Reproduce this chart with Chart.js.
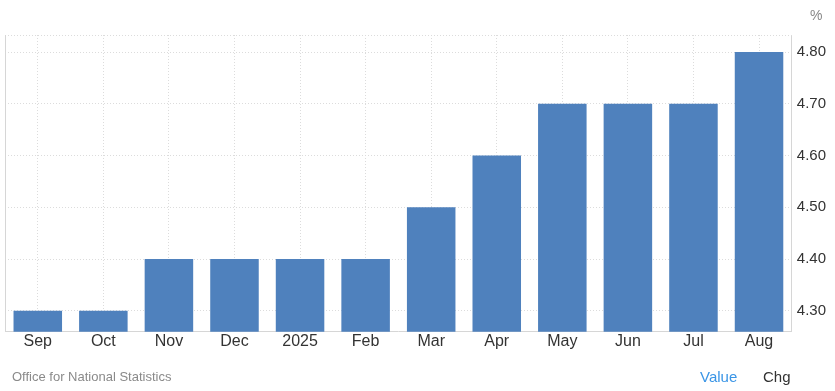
<!DOCTYPE html>
<html>
<head>
<meta charset="utf-8">
<script src="https://cdn.jsdelivr.net/npm/chart.js@4/dist/chart.umd.min.js"></script>
<style>
  html, body { margin: 0; padding: 0; background: #fff; }
  #wrap { position: relative; width: 835px; height: 391px; font-family: "Liberation Sans", Arial, sans-serif; }
  #c { position: absolute; left: 0; top: 0; }
  .txt { position: absolute; white-space: nowrap; }
</style>
</head>
<body>
<div id="wrap">
  <canvas id="c" width="835" height="391"></canvas>
  <div class="txt" style="left:810px; top:7px; font-size:14px; color:#888;">%</div>
  <div class="txt" style="left:12px; top:369px; font-size:13px; color:#8a8a8a;">Office for National Statistics</div>
  <div class="txt" style="left:700px; top:368px; font-size:15px; color:#3a95e6;">Value</div>
  <div class="txt" style="left:763px; top:368px; font-size:15px; color:#333;">Chg</div>
</div>
<script>
const categories = ["Sep", "Oct", "Nov", "Dec", "2025", "Feb", "Mar", "Apr", "May", "Jun", "Jul", "Aug"];
const values = [4.3, 4.3, 4.4, 4.4, 4.4, 4.4, 4.5, 4.6, 4.7, 4.7, 4.7, 4.8];
const yTicks = [4.3, 4.4, 4.5, 4.6, 4.7, 4.8];

const frame = {
  id: 'frame',
  beforeDatasetsDraw(chart) {
    const { ctx, chartArea: a } = chart;
    ctx.save();
    ctx.strokeStyle = '#dcdcdc';
    ctx.lineWidth = 1;
    ctx.setLineDash([1, 2]);
    ctx.beginPath();
    ctx.moveTo(a.left, a.top + 0.5);
    ctx.lineTo(a.right, a.top + 0.5);
    ctx.stroke();
    ctx.setLineDash([]);
    ctx.strokeStyle = '#d6d6d6';
    ctx.beginPath();
    ctx.moveTo(a.left + 0.5, a.top);
    ctx.lineTo(a.left + 0.5, a.bottom);
    ctx.stroke();
    ctx.restore();
  }
};

new Chart(document.getElementById('c'), {
  type: 'bar',
  data: {
    labels: categories,
    datasets: [{
      data: values,
      backgroundColor: '#4f81bd',
      borderWidth: 0,
      categoryPercentage: 1,
      barPercentage: 0.74
    }]
  },
  options: {
    responsive: false,
    animation: false,
    events: [],
    layout: { padding: { left: 5, right: 4, top: 35, bottom: 40 } },
    plugins: { legend: { display: false }, tooltip: { enabled: false } },
    scales: {
      x: {
        grid: { offset: false, drawTicks: false, color: '#dcdcdc' },
        border: { display: true, color: '#d6d6d6', dash: [1, 2] },
        ticks: { color: '#333', font: { family: 'Liberation Sans', size: 16 }, padding: 0, maxRotation: 0 }
      },
      y: {
        position: 'right',
        min: 4.2593,
        max: 4.833,
        afterBuildTicks(axis) { axis.ticks = yTicks.map(v => ({ value: v })); },
        grid: { drawTicks: false, color: '#dcdcdc' },
        border: { display: true, color: '#d6d6d6', dash: [1, 2] },
        ticks: {
          color: '#333', font: { family: 'Liberation Sans', size: 15 }, padding: 5,
          callback: v => Number(v).toFixed(2)
        }
      }
    }
  },
  plugins: [frame]
});
</script>
</body>
</html>
